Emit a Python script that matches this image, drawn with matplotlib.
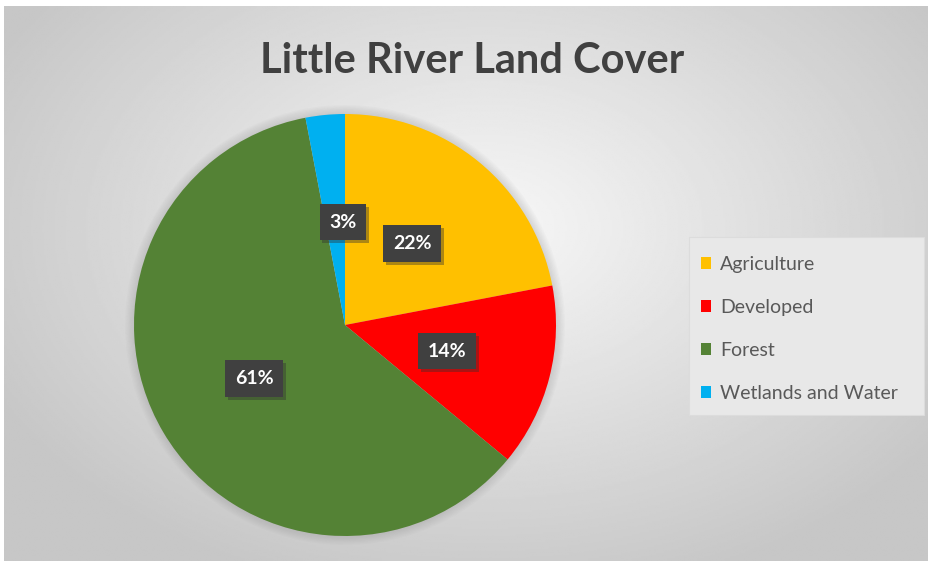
"""Pie chart of land cover shares for the Little River watershed."""

import matplotlib.pyplot as plt
import matplotlib.patheffects as pe
import numpy as np
from matplotlib.patches import Circle, FancyBboxPatch

categories = ["Agriculture", "Developed", "Forest", "Wetlands and Water"]
shares = [22, 14, 61, 3]
colors = ["#FFC000", "#FF0000", "#548235", "#00B0F0"]
title = "Little River Land Cover"

W, H, DPI = 929, 561, 100
fig = plt.figure(figsize=(W / DPI, H / DPI), dpi=DPI, facecolor="white")

# Radial grey backdrop (light in the middle, darker toward the corners).
bg = fig.add_axes([4 / W, 0, (W - 4) / W, (H - 6) / H])
bg.set_axis_off()
yy, xx = np.mgrid[0:1:300j, 0:1:500j]
dist = np.sqrt(((xx - 0.52) / 0.75) ** 2 + ((yy - 0.6) / 0.85) ** 2)
shade = np.clip(0.97 - 0.24 * dist, 0.78, 0.97)
bg.imshow(shade, cmap="gray", vmin=0, vmax=1, aspect="auto",
          extent=[0, 1, 0, 1], origin="lower")

fig.text(472 / W, 1 - 61 / H, title, ha="center", va="center",
         fontsize=30, fontweight="bold", family="Lato", color="#404040")

# Pie axes, centred at (345, 325) px with radius 211 px.
R, cx, cy = 211, 345, 325
half = 1.1 * R
ax = fig.add_axes([(cx - half) / W, (H - cy - half) / H, 2 * half / W, 2 * half / H])
ax.set_axis_off()

# Soft drop shadow behind the pie.
for i in range(8):
    ax.add_patch(Circle((0, 0), 1.0 + 0.006 * i, color="#8a8a8a",
                        alpha=0.04, lw=0, zorder=0))

wedges, _, autotexts = ax.pie(
    shares, colors=colors, startangle=90, counterclock=False,
    autopct="%1.0f%%", pctdistance=0.5,
    wedgeprops=dict(linewidth=0),
    textprops=dict(color="white", fontsize=14, fontweight="bold", family="Lato"),
)
ax.set_xlim(-1.1, 1.1)
ax.set_ylim(-1.1, 1.1)
ax.set_aspect("equal")

for t in autotexts:
    t.set_bbox(dict(boxstyle="square,pad=0.5", fc="#404040", ec="none"))
    t.get_bbox_patch().set_path_effects(
        [pe.withSimplePatchShadow(offset=(2, -2), shadow_rgbFace="#303030", alpha=0.4)]
    )

# The thin sliver's label sits nearly on the vertical.
x3, y3 = autotexts[3].get_position()
autotexts[3].set_position((x3 * 0.2, y3 * 0.98))

# Legend on a lighter panel at the right.
panel = FancyBboxPatch((689 / W, 1 - 415 / H), 235 / W, 178 / H,
                       boxstyle="square,pad=0", transform=fig.transFigure,
                       fc="#e8e8e8", ec="#dcdcdc", lw=0.8, zorder=1)
fig.add_artist(panel)
leg = fig.legend(wedges, categories, loc="upper left",
                 bbox_to_anchor=(693 / W, 1 - 248 / H), frameon=False,
                 prop=dict(family="Lato", size=14), labelspacing=1.34,
                 handlelength=0.55, handleheight=0.55, handletextpad=0.45,
                 borderaxespad=0)
for txt in leg.get_texts():
    txt.set_color("#595959")

fig.savefig("out.png", dpi=DPI)
